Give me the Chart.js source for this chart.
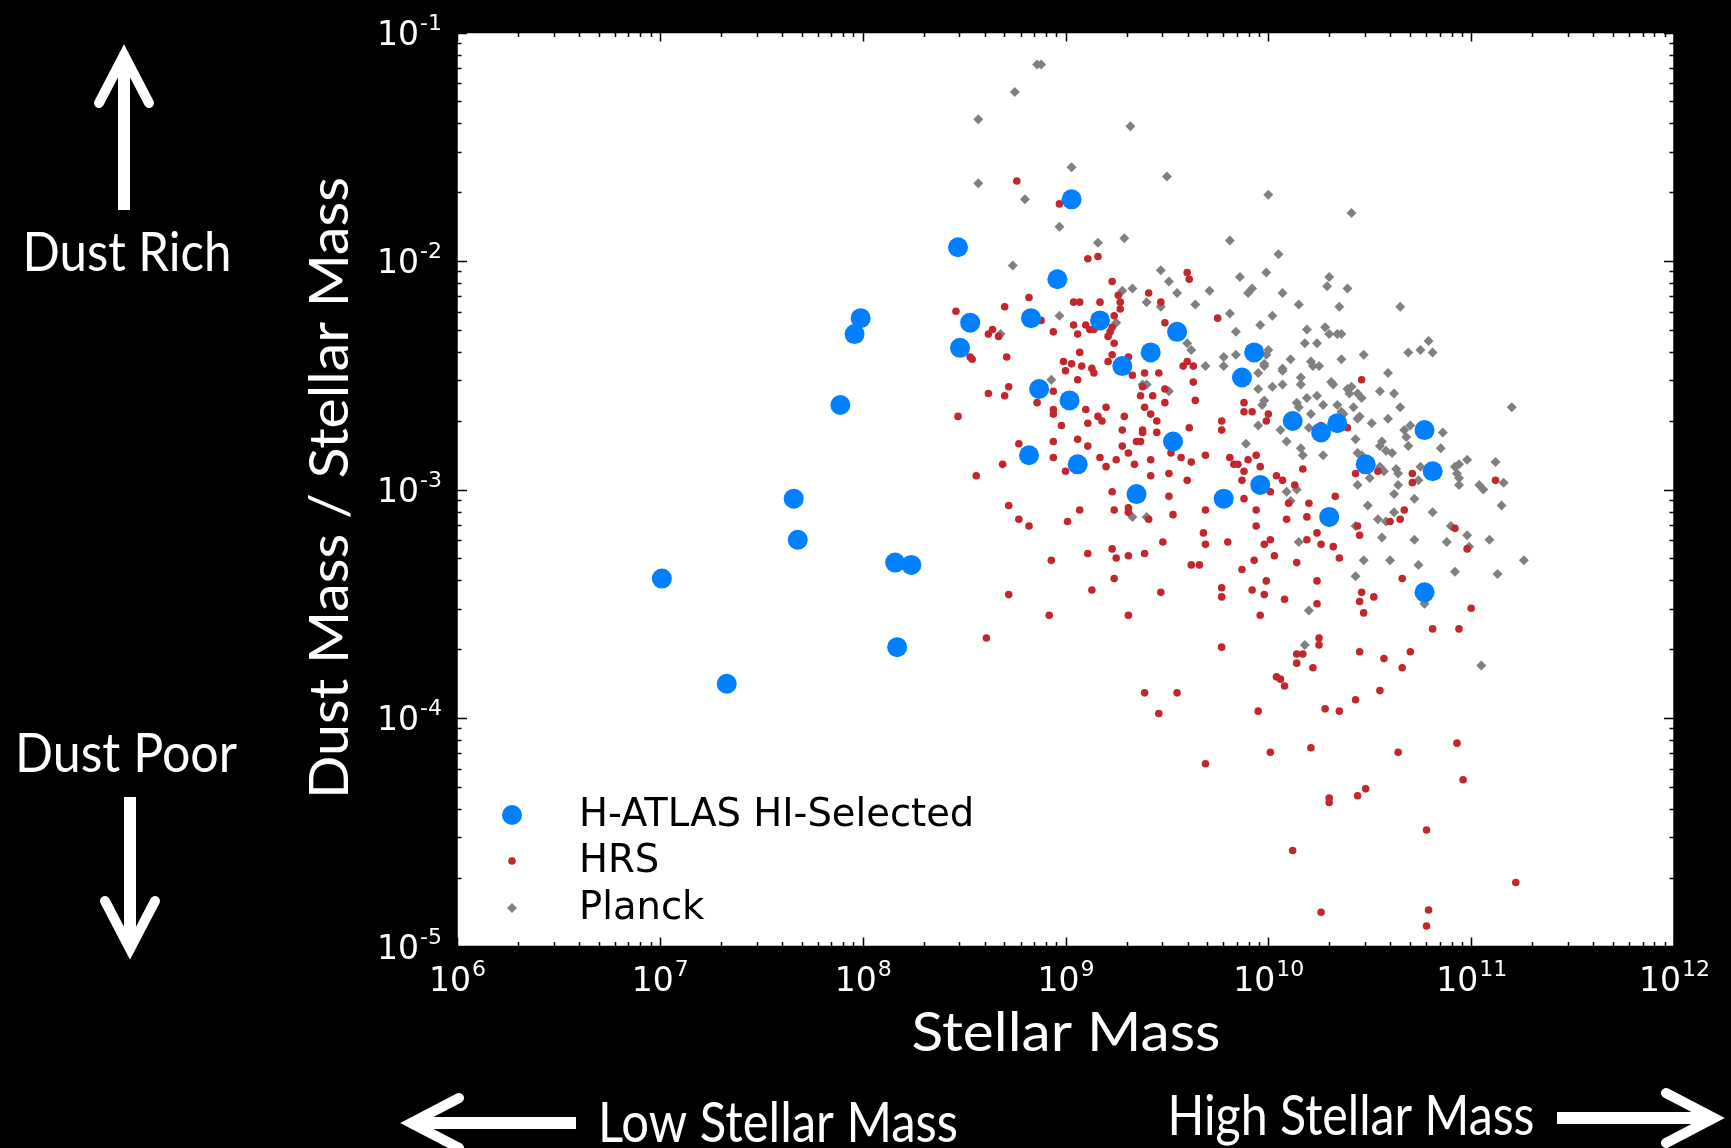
<!DOCTYPE html>
<html>
<head>
<meta charset="utf-8">
<title>Dust to stellar mass</title>
<script src="https://cdn.jsdelivr.net/npm/chart.js@4.4.0/dist/chart.umd.min.js"></script>
<style>
html, body { margin: 0; padding: 0; background: #000; }
canvas { display: block; }
</style>
</head>
<body>
<canvas id="myChart" width="1731" height="1148"></canvas>
<script>
'use strict';

// axis decades (powers of ten shown as tick labels)
let xDecades = [6, 7, 8, 9, 10, 11, 12];
let yDecades = [-5, -4, -3, -2, -1];
let seriesNames = ['H-ATLAS HI-Selected', 'HRS', 'Planck'];

// values, as log10(stellar mass) and log10(dust mass / stellar mass)
let hatlasLogMass = [
  7.01, 7.33, 7.66, 7.68, 7.89, 7.96, 7.99, 8.16, 8.24, 8.17,
  8.47, 8.48, 8.53, 8.82, 8.83, 8.87, 8.96, 9.02, 9.03, 9.06,
  9.17, 9.28, 9.35, 9.42, 9.53, 9.55, 9.78, 9.87, 9.93, 9.96,
  10.12, 10.26, 10.34, 10.30, 10.48, 10.77, 10.77, 10.81
];
let hatlasLogRatio = [
  -3.39, -3.85, -3.04, -3.22, -2.63, -2.32, -2.25, -3.32, -3.33, -3.69,
  -1.94, -2.38, -2.27, -2.85, -2.25, -2.56, -2.08, -2.61, -1.73, -2.89,
  -2.26, -2.46, -3.02, -2.40, -2.79, -2.31, -3.04, -2.51, -2.40, -2.98,
  -2.70, -2.75, -2.71, -3.12, -2.89, -2.74, -3.45, -2.92
];

let hrsLogMass = [
  8.76, 8.82, 8.46, 8.70, 8.62, 8.64, 8.67, 8.53, 8.54, 8.71,
  8.72, 8.62, 8.70, 8.47, 8.77, 8.69, 8.56, 8.72, 8.77, 8.82,
  8.72, 8.61, 8.97, 9.11, 9.16, 9.23, 9.04, 9.07, 9.17, 9.26,
  9.27, 9.27, 9.24, 9.41, 9.47, 9.60, 9.61, 9.75, 9.49, 8.88,
  8.94, 9.04, 9.06, 9.10, 9.12, 9.14, 9.22, 9.23, 9.21, 9.24,
  9.23, 9.21, 9.07, 8.99, 9.03, 9.08, 9.00, 9.13, 9.14, 9.06,
  9.31, 9.33, 9.39, 9.46, 9.60, 9.58, 9.63, 9.63, 8.94, 8.86,
  8.94, 8.94, 8.98, 9.10, 9.20, 9.11, 9.16, 9.18, 9.29, 9.28,
  9.38, 9.37, 9.43, 9.49, 9.49, 9.39, 9.42, 9.45, 9.38, 9.38,
  9.45, 9.64, 9.61, 9.77, 9.77, 9.88, 9.88, 9.92, 8.94, 9.06,
  9.11, 9.28, 9.35, 9.37, 10.46, 10.00, 9.99, 10.26, 10.39, 9.31,
  8.94, 9.00, 9.17, 9.20, 9.25, 9.34, 9.42, 9.42, 9.51, 9.52,
  9.57, 9.62, 9.60, 9.69, 9.81, 9.83, 9.85, 9.23, 9.51, 9.01,
  9.07, 9.24, 9.31, 9.31, 9.41, 9.53, 9.69, 9.68, 9.69, 9.80,
  9.48, 9.11, 9.23, 9.25, 9.31, 9.39, 8.93, 9.62, 9.66, 9.24,
  9.13, 9.47, 9.77, 9.77, 8.92, 9.31, 9.77, 9.39, 9.55, 9.46,
  9.94, 9.90, 9.96, 9.88, 9.87, 10.04, 10.07, 10.17, 10.13, 10.01,
  9.88, 10.10, 10.20, 10.33, 10.43, 10.54, 10.71, 10.71, 11.12, 9.94,
  10.09, 10.19, 9.94, 10.24, 10.01, 9.98, 10.19, 10.26, 10.32, 10.35,
  10.03, 10.14, 9.93, 9.87, 10.44, 10.45, 10.60, 10.65, 10.67, 10.92,
  10.98, 10.66, 10.24, 9.99, 9.92, 9.98, 10.08, 10.24, 9.96, 10.46,
  10.45, 10.52, 10.47, 11.00, 10.81, 10.94, 10.25, 10.25, 10.14, 10.17,
  10.14, 10.22, 10.45, 10.57, 10.70, 10.66, 10.04, 10.06, 10.08, 10.55,
  10.43, 9.95, 10.28, 10.35, 9.69, 10.01, 10.21, 10.64, 10.93, 10.96,
  10.30, 10.30, 10.44, 10.48, 10.78, 10.12, 11.22, 10.26, 10.79, 10.78
];
let hrsLogRatio = [
  -1.65, -2.16, -2.22, -2.20, -2.32, -2.30, -2.33, -2.42, -2.43, -2.42,
  -2.55, -2.58, -2.59, -2.68, -2.80, -2.89, -2.94, -3.07, -3.13, -3.16,
  -3.46, -3.65, -1.75, -1.99, -1.98, -2.09, -2.18, -2.18, -2.18, -2.15,
  -2.18, -2.21, -2.24, -2.14, -2.18, -2.05, -2.08, -2.25, -2.27, -2.26,
  -2.31, -2.28, -2.32, -2.28, -2.30, -2.30, -2.31, -2.29, -2.33, -2.36,
  -2.41, -2.44, -2.40, -2.44, -2.45, -2.46, -2.48, -2.47, -2.49, -2.52,
  -2.42, -2.50, -2.49, -2.49, -2.44, -2.46, -2.46, -2.53, -2.57, -2.62,
  -2.65, -2.67, -2.72, -2.65, -2.64, -2.71, -2.68, -2.70, -2.68, -2.74,
  -2.55, -2.59, -2.59, -2.56, -2.62, -2.64, -2.67, -2.70, -2.74, -2.75,
  -2.75, -2.61, -2.73, -2.70, -2.74, -2.62, -2.66, -2.66, -2.79, -2.78,
  -2.81, -2.81, -2.79, -2.79, -2.52, -2.67, -2.70, -2.72, -2.73, -2.84,
  -2.86, -2.92, -2.86, -2.90, -2.87, -2.89, -2.87, -2.94, -2.93, -2.84,
  -2.86, -2.88, -2.96, -2.85, -2.86, -2.89, -2.89, -3.01, -3.03, -3.14,
  -3.09, -3.09, -3.08, -3.10, -3.13, -3.11, -3.09, -3.19, -3.24, -3.23,
  -3.23, -3.28, -3.26, -3.30, -3.29, -3.28, -3.31, -3.33, -3.33, -3.39,
  -3.44, -3.45, -3.43, -3.47, -3.55, -3.55, -3.69, -3.89, -3.89, -3.98,
  -2.85, -2.87, -2.90, -2.92, -2.96, -2.94, -2.96, -2.91, -2.98, -3.01,
  -3.04, -3.06, -3.06, -3.03, -2.93, -2.92, -2.93, -2.97, -2.96, -3.09,
  -3.13, -3.12, -3.16, -3.19, -3.22, -3.24, -3.22, -3.24, -3.25, -3.30,
  -3.29, -3.32, -3.31, -3.35, -3.16, -3.20, -3.14, -3.13, -3.09, -3.17,
  -3.26, -3.39, -3.40, -3.40, -3.44, -3.46, -3.48, -3.50, -3.55, -3.45,
  -3.49, -3.47, -3.54, -3.52, -3.61, -3.61, -3.65, -3.68, -3.72, -3.72,
  -3.76, -3.78, -3.71, -3.74, -3.71, -3.78, -3.82, -3.83, -3.86, -3.88,
  -3.92, -3.97, -3.96, -3.97, -4.20, -4.15, -4.13, -4.15, -4.11, -4.27,
  -4.35, -4.37, -4.34, -4.31, -4.49, -4.58, -4.72, -4.85, -4.84, -4.91
];

let planckLogMass = [
  8.86, 8.88, 8.75, 8.57, 9.32, 8.57, 8.80, 8.74, 8.68,
  9.03, 9.50, 8.97, 9.16, 9.29, 9.81, 9.47, 9.51, 9.86, 9.28,
  9.33, 9.40, 9.55, 9.47, 9.71, 9.64, 9.90, 9.92, 9.81, 8.97,
  9.25, 9.84, 9.60, 9.62, 9.78, 9.78, 9.84, 9.69, 8.93, 9.40,
  9.38, 9.51,
  10.00, 10.41, 10.05, 9.99, 10.30, 10.29, 10.39, 10.07, 10.15, 10.35,
  10.65, 10.02, 9.96, 10.19, 10.28, 10.30, 10.34, 10.36, 10.18, 10.24,
  10.00, 9.99, 10.47, 10.36, 10.11, 10.69, 10.75, 10.79, 10.81, 9.98,
  9.98, 10.07, 10.07, 10.21, 10.22, 10.25, 9.95, 10.16, 10.16, 10.31,
  10.32, 10.59, 10.02, 10.07, 9.95, 10.39, 10.41, 10.40, 10.44, 10.46,
  10.55, 10.62, 10.19, 10.24, 9.98, 9.97, 10.14, 10.15, 10.27, 10.34,
  10.36, 10.37, 10.42, 10.65, 11.20, 10.21, 10.44, 10.45, 10.51, 10.59,
  9.95, 10.06, 10.20, 10.67, 10.70, 10.68, 10.86, 9.89, 10.09, 10.43,
  10.56, 10.55, 10.69, 10.85, 10.16,
  10.17, 10.27, 10.44, 10.46, 10.58, 10.61, 10.98, 11.12, 10.55, 10.57,
  10.63, 10.64, 10.75, 10.74, 10.92, 10.94, 10.93, 10.94, 11.04, 11.06,
  11.16, 10.94, 10.50, 10.44, 10.64, 10.62, 10.72, 10.09, 10.11, 10.14,
  10.49, 10.62, 10.81, 11.15, 10.54, 10.58, 10.43, 10.90, 10.98, 10.99,
  11.09, 10.88, 10.72, 10.56, 10.15, 10.47, 10.60, 10.74, 11.26, 10.43,
  10.92, 11.13, 10.20, 10.77, 10.18, 11.05,
  9.33, 9.40
];
let planckLogRatio = [
  -1.14, -1.14, -1.26, -1.38, -1.41, -1.66, -1.73, -2.02, -2.32,
  -1.59, -1.63, -1.85, -1.92, -1.90, -1.91, -2.04, -2.09, -2.07, -2.13,
  -2.12, -2.18, -2.14, -2.20, -2.13, -2.19, -2.14, -2.12, -2.23, -2.24,
  -2.27, -2.31, -2.36, -2.39, -2.42, -2.46, -2.41, -2.46, -2.52, -2.54,
  -2.54, -2.57,
  -1.71, -1.79, -1.97, -2.05, -2.07, -2.11, -2.12, -2.14, -2.19, -2.20,
  -2.20, -2.24, -2.28, -2.30, -2.29, -2.32, -2.32, -2.32, -2.36, -2.36,
  -2.39, -2.41, -2.41, -2.43, -2.43, -2.40, -2.39, -2.35, -2.40, -2.45,
  -2.46, -2.47, -2.48, -2.44, -2.46, -2.46, -2.49, -2.51, -2.54, -2.53,
  -2.54, -2.49, -2.55, -2.54, -2.56, -2.56, -2.55, -2.58, -2.58, -2.60,
  -2.57, -2.58, -2.60, -2.59, -2.61, -2.63, -2.62, -2.64, -2.63, -2.63,
  -2.66, -2.67, -2.64, -2.64, -2.64, -2.67, -2.69, -2.68, -2.71, -2.69,
  -2.72, -2.74, -2.73, -2.74, -2.72, -2.77, -2.75, -2.80, -2.79, -2.78,
  -2.79, -2.81, -2.81, -2.82, -2.82,
  -2.85, -2.85, -2.84, -2.85, -2.83, -2.84, -2.87, -2.88, -2.90, -2.92,
  -2.91, -2.93, -2.90, -2.96, -2.90, -2.89, -2.93, -2.95, -2.98, -3.00,
  -2.97, -2.98, -2.95, -2.98, -2.98, -3.02, -3.04, -3.01, -3.05, -3.00,
  -3.07, -3.10, -3.10, -3.07, -3.13, -3.14, -3.16, -3.16, -3.20, -3.25,
  -3.22, -3.23, -3.22, -3.21, -3.23, -3.31, -3.31, -3.33, -3.31, -3.38,
  -3.36, -3.37, -3.53, -3.50, -3.68, -3.77,
  -3.12, -3.12
];

function toPoints(logMass, logRatio) {
  let pts = [];
  for (let i = 0; i < logMass.length; i++) {
    pts.push({ x: Math.pow(10, logMass[i]), y: Math.pow(10, logRatio[i]) });
  }
  return pts;
}

const TITLE_FONT = 'Lato, "Open Sans", sans-serif';
const TICK_FONT = '"DejaVu Sans", sans-serif';

// text squeezed or stretched to a given width, centred on cx
function fitText(ctx, text, cx, baseline, width, size) {
  ctx.font = size + 'px ' + TITLE_FONT;
  let w = ctx.measureText(text).width;
  ctx.save();
  ctx.translate(cx, baseline);
  ctx.scale(width / w, 1);
  ctx.textAlign = 'left';
  ctx.textBaseline = 'alphabetic';
  ctx.fillText(text, -w / 2, 0);
  ctx.restore();
}

function powLabel(ctx, exp, x, baseline, align) {
  ctx.font = '33px ' + TICK_FONT;
  let wBase = ctx.measureText('10').width;
  ctx.font = '22px ' + TICK_FONT;
  let wExp = ctx.measureText(String(exp)).width;
  let start = align === 'right' ? x - wBase - wExp : x - (wBase + wExp) / 2;
  ctx.textAlign = 'left';
  ctx.textBaseline = 'alphabetic';
  ctx.font = '33px ' + TICK_FONT;
  ctx.fillText('10', start, baseline);
  ctx.font = '22px ' + TICK_FONT;
  ctx.fillText(String(exp), start + wBase + 1, baseline - 15);
}

function arrow(ctx, x1, y1, x2, y2) {
  // shaft from (x1,y1) towards the visible tip (x2,y2), open chevron head
  let ang = Math.atan2(y2 - y1, x2 - x1);
  let cos = Math.cos(ang), sin = Math.sin(ang);
  // the miter join pokes out past the apex, so pull the apex back
  let ax = x2 - 10 * cos, ay = y2 - 10 * sin;
  ctx.lineWidth = 12;
  ctx.lineCap = 'butt';
  ctx.beginPath();
  ctx.moveTo(x1, y1);
  ctx.lineTo(ax - 4 * cos, ay - 4 * sin);
  ctx.stroke();
  let back = 48, side = 25;
  let bx = ax - back * cos, by = ay - back * sin;
  let px = -sin * side, py = cos * side;
  ctx.lineWidth = 10;
  ctx.lineCap = 'round';
  ctx.lineJoin = 'miter';
  ctx.beginPath();
  ctx.moveTo(bx + px, by + py);
  ctx.lineTo(ax, ay);
  ctx.lineTo(bx - px, by - py);
  ctx.stroke();
}

function marker(ctx, style, r, color, x, y) {
  ctx.fillStyle = color;
  ctx.beginPath();
  if (style === 'rectRot') {
    ctx.moveTo(x - r, y);
    ctx.lineTo(x, y - r);
    ctx.lineTo(x + r, y);
    ctx.lineTo(x, y + r);
    ctx.closePath();
  } else {
    ctx.arc(x, y, r, 0, Math.PI * 2);
  }
  ctx.fill();
}

let decor = {
  id: 'decor',
  beforeDraw(chart) {
    let ctx = chart.ctx, a = chart.chartArea;
    ctx.save();
    ctx.fillStyle = '#000';
    ctx.fillRect(0, 0, chart.width, chart.height);
    ctx.fillStyle = '#fff';
    ctx.fillRect(a.left, a.top, a.right - a.left, a.bottom - a.top);
    ctx.restore();
  },
  afterDraw(chart) {
    let ctx = chart.ctx, a = chart.chartArea;
    let xs = chart.scales.x, ys = chart.scales.y;
    ctx.save();

    // frame and inward ticks
    ctx.strokeStyle = '#000';
    ctx.lineWidth = 1.5;
    ctx.strokeRect(a.left, a.top, a.right - a.left, a.bottom - a.top);
    ctx.beginPath();
    for (let e = xDecades[0]; e <= xDecades[xDecades.length - 1]; e++) {
      for (let m = 1; m <= 9; m++) {
        if (e === xDecades[xDecades.length - 1] && m > 1) break;
        let px = Math.round(xs.getPixelForValue(m * Math.pow(10, e))) + 0.5;
        let len = m === 1 ? 9 : 4.5;
        ctx.moveTo(px, a.bottom); ctx.lineTo(px, a.bottom - len);
        ctx.moveTo(px, a.top); ctx.lineTo(px, a.top + len);
      }
    }
    for (let e = yDecades[0]; e <= yDecades[yDecades.length - 1]; e++) {
      for (let m = 1; m <= 9; m++) {
        if (e === yDecades[yDecades.length - 1] && m > 1) break;
        let py = Math.round(ys.getPixelForValue(m * Math.pow(10, e))) + 0.5;
        let len = m === 1 ? 10 : 4.5;
        ctx.moveTo(a.left, py); ctx.lineTo(a.left + len, py);
        ctx.moveTo(a.right, py); ctx.lineTo(a.right - len, py);
      }
    }
    ctx.stroke();

    // tick labels
    ctx.fillStyle = '#fff';
    xDecades.forEach(e => {
      powLabel(ctx, e, xs.getPixelForValue(Math.pow(10, e)), a.bottom + 44, 'center');
    });
    yDecades.forEach(e => {
      powLabel(ctx, e, 441, ys.getPixelForValue(Math.pow(10, e)) + 12, 'right');
    });

    // axis titles
    fitText(ctx, 'Stellar Mass', 1066, 1051, 309, 55);
    ctx.save();
    ctx.translate(348, 488);
    ctx.rotate(-Math.PI / 2);
    fitText(ctx, 'Dust Mass / Stellar Mass', 0, 0, 622, 55);
    ctx.restore();

    // annotations around the plot
    fitText(ctx, 'Dust Rich', 127, 271, 209, 55);
    fitText(ctx, 'Dust Poor', 126, 772, 222, 55);
    fitText(ctx, 'Low Stellar Mass', 778, 1142, 360, 56);
    fitText(ctx, 'High Stellar Mass', 1351, 1135, 367, 56);
    ctx.strokeStyle = '#fff';
    arrow(ctx, 124, 210, 124, 45);
    arrow(ctx, 130, 797, 130, 959);
    arrow(ctx, 576, 1123, 401, 1123);
    arrow(ctx, 1557, 1118, 1724, 1118);

    // legend inside the plot, lower left
    let rows = [815, 861, 908];
    chart.data.datasets.forEach((ds, i) => {
      marker(ctx, ds.pointStyle, ds.pointRadius, ds.backgroundColor, 512, rows[i]);
      ctx.fillStyle = '#000';
      ctx.font = '38.5px ' + TICK_FONT;
      ctx.textAlign = 'left';
      ctx.textBaseline = 'middle';
      ctx.fillText(ds.label, 579, rows[i] + 1);
    });
    ctx.restore();
  }
};

let ctx = document.getElementById('myChart').getContext('2d');
let myChart = new Chart(ctx, {
  type: 'scatter',
  data: {
    datasets: [{
      label: seriesNames[0],
      data: toPoints(hatlasLogMass, hatlasLogRatio),
      backgroundColor: '#0080ff',
      pointStyle: 'circle',
      pointRadius: 10,
      pointHoverRadius: 10,
      borderWidth: 0
    }, {
      label: seriesNames[1],
      data: toPoints(hrsLogMass, hrsLogRatio),
      backgroundColor: '#c1272d',
      pointStyle: 'circle',
      pointRadius: 3.8,
      pointHoverRadius: 3.8,
      borderWidth: 0
    }, {
      label: seriesNames[2],
      data: toPoints(planckLogMass, planckLogRatio),
      backgroundColor: '#808080',
      pointStyle: 'rectRot',
      pointRadius: 5,
      pointHoverRadius: 5,
      borderWidth: 0
    }]
  },
  options: {
    responsive: false,
    animation: false,
    devicePixelRatio: 1,
    layout: { padding: { left: 457, right: 57, top: 32.5, bottom: 201.5 } },
    plugins: {
      legend: { display: false },
      tooltip: { enabled: false }
    },
    scales: {
      x: {
        type: 'logarithmic',
        min: 1e6,
        max: 1e12,
        grid: { display: false },
        border: { display: false },
        ticks: { display: false },
        afterFit(s) { s.height = 0; }
      },
      y: {
        type: 'logarithmic',
        min: 1e-5,
        max: 1e-1,
        grid: { display: false },
        border: { display: false },
        ticks: { display: false },
        afterFit(s) { s.width = 0; }
      }
    }
  },
  plugins: [decor]
});
</script>
</body>
</html>
